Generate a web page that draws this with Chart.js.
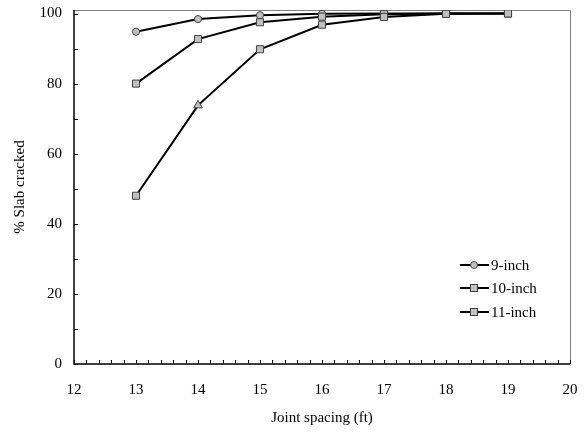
<!DOCTYPE html>
<html><head><meta charset="utf-8">
<script src="https://cdn.jsdelivr.net/npm/chart.js@4"></script>
<style>html,body{margin:0;padding:0;background:#fff}#wrap{width:585px;height:432px}</style>
</head><body><div id="wrap"><canvas id="c" width="585" height="432"></canvas></div>
<script>
const spacing = [13, 14, 15, 16, 17, 18, 19];
const inch9 = [94.8, 98.4, 99.5, 99.9, 100, 100, 100];
const inch10 = [80, 92.7, 97.5, 99.1, 99.8, 100, 100];
const inch11 = [48, 73.8, 89.8, 96.8, 99, 99.9, 100];
const seriesNames = ['9-inch', '10-inch', '11-inch'];
const yTicks = [0, 20, 40, 60, 80, 100];
const xTicks = [12, 13, 14, 15, 16, 17, 18, 19, 20];

const FONT = "'Liberation Serif', 'Times New Roman', serif";
const mk = (arr) => spacing.map((x, i) => ({x, y: arr[i]}));
const noPad = s => { s.paddingLeft = 0; s.paddingRight = 0; s.paddingTop = 0; s.paddingBottom = 0; };

const inside = {
  id: 'inside',
  beforeDatasetsDraw(chart) {
    const ctx = chart.ctx, a = chart.chartArea, xs = chart.scales.x, ys = chart.scales.y;
    ctx.save();
    ctx.strokeStyle = '#808080'; ctx.lineWidth = 1;
    ctx.beginPath();
    ctx.moveTo(a.left, a.top + 0.5); ctx.lineTo(a.right + 0.5, a.top + 0.5); ctx.lineTo(a.right + 0.5, a.bottom);
    ctx.stroke();
    ctx.strokeStyle = '#000'; ctx.lineWidth = 1.5;
    ctx.beginPath();
    ctx.moveTo(a.left, a.top); ctx.lineTo(a.left, a.bottom); ctx.lineTo(a.right, a.bottom);
    ctx.stroke();
    ctx.lineWidth = 1;
    ctx.beginPath();
    for (let v = 12; v <= 20.001; v += 0.2) {
      const px = Math.round(xs.getPixelForValue(v)) + 0.5;
      ctx.moveTo(px, a.bottom); ctx.lineTo(px, a.bottom - 4);
    }
    for (let v = 0; v <= 100; v += 10) {
      const py = Math.round(ys.getPixelForValue(v)) + 0.5;
      ctx.moveTo(a.left, py); ctx.lineTo(a.left + 4, py);
    }
    ctx.stroke();
    ctx.restore();
  }
};

const legendPlug = {
  id: 'customLegend',
  afterDraw(chart) {
    const ctx = chart.ctx;
    ctx.save();
    const ys0 = [265, 288, 312];
    seriesNames.forEach((name, i) => {
      const y = ys0[i];
      ctx.strokeStyle = '#000'; ctx.lineWidth = 2;
      ctx.beginPath(); ctx.moveTo(460, y); ctx.lineTo(489, y); ctx.stroke();
      ctx.fillStyle = '#c0c0c0'; ctx.strokeStyle = '#404040'; ctx.lineWidth = 1;
      if (i === 0) { ctx.beginPath(); ctx.arc(474, y, 3.5, 0, Math.PI * 2); ctx.fill(); ctx.stroke(); }
      else { ctx.fillRect(470.5, y - 3.5, 7, 7); ctx.strokeRect(470.5, y - 3.5, 7, 7); }
      ctx.fillStyle = '#000'; ctx.font = '15px ' + FONT; ctx.textBaseline = 'middle'; ctx.textAlign = 'left';
      ctx.fillText(name, 491, y + 1);
    });
    ctx.restore();
  }
};

const common = {borderColor: '#000', borderWidth: 2, backgroundColor: '#c0c0c0', pointBackgroundColor: '#c0c0c0',
  pointBorderColor: '#404040', pointBorderWidth: 1, showLine: true, fill: false, tension: 0};

new Chart(document.getElementById('c'), {
  type: 'scatter',
  data: {datasets: [
    Object.assign({}, common, {label: seriesNames[2], data: mk(inch11), pointStyle: spacing.map(x => x === 14 ? 'triangle' : 'rect'), pointRadius: 5}),
    Object.assign({}, common, {label: seriesNames[1], data: mk(inch10), pointStyle: 'rect', pointRadius: 5}),
    Object.assign({}, common, {label: seriesNames[0], data: mk(inch9), pointStyle: 'circle', pointRadius: 3.6})
  ]},
  options: {
    responsive: false, animation: false, devicePixelRatio: 1,
    layout: {padding: {top: 10, right: 15, left: 0, bottom: 0}},
    plugins: {legend: {display: false}, tooltip: {enabled: false}},
    scales: {
      x: {type: 'linear', min: 12, max: 20,
        afterBuildTicks: s => { s.ticks = xTicks.map(v => ({value: v})); },
        afterFit: s => { s.height = 68; noPad(s); },
        grid: {display: false, drawTicks: false}, border: {display: false},
        ticks: {padding: 17, color: '#000', font: {family: FONT, size: 15}},
        title: {display: true, text: 'Joint spacing (ft)', color: '#000', font: {family: FONT, size: 15}, padding: {top: 4, bottom: 5}}
      },
      y: {type: 'linear', min: 0, max: 101,
        afterBuildTicks: s => { s.ticks = yTicks.map(v => ({value: v})); },
        afterFit: s => { s.width = 74; noPad(s); },
        grid: {display: false, drawTicks: false}, border: {display: false},
        ticks: {padding: 12, color: '#000', font: {family: FONT, size: 15}},
        title: {display: true, text: '% Slab cracked', color: '#000', font: {family: FONT, size: 15}, padding: {top: 11, bottom: 4}}
      }
    }
  },
  plugins: [inside, legendPlug]
});
</script></body></html>
